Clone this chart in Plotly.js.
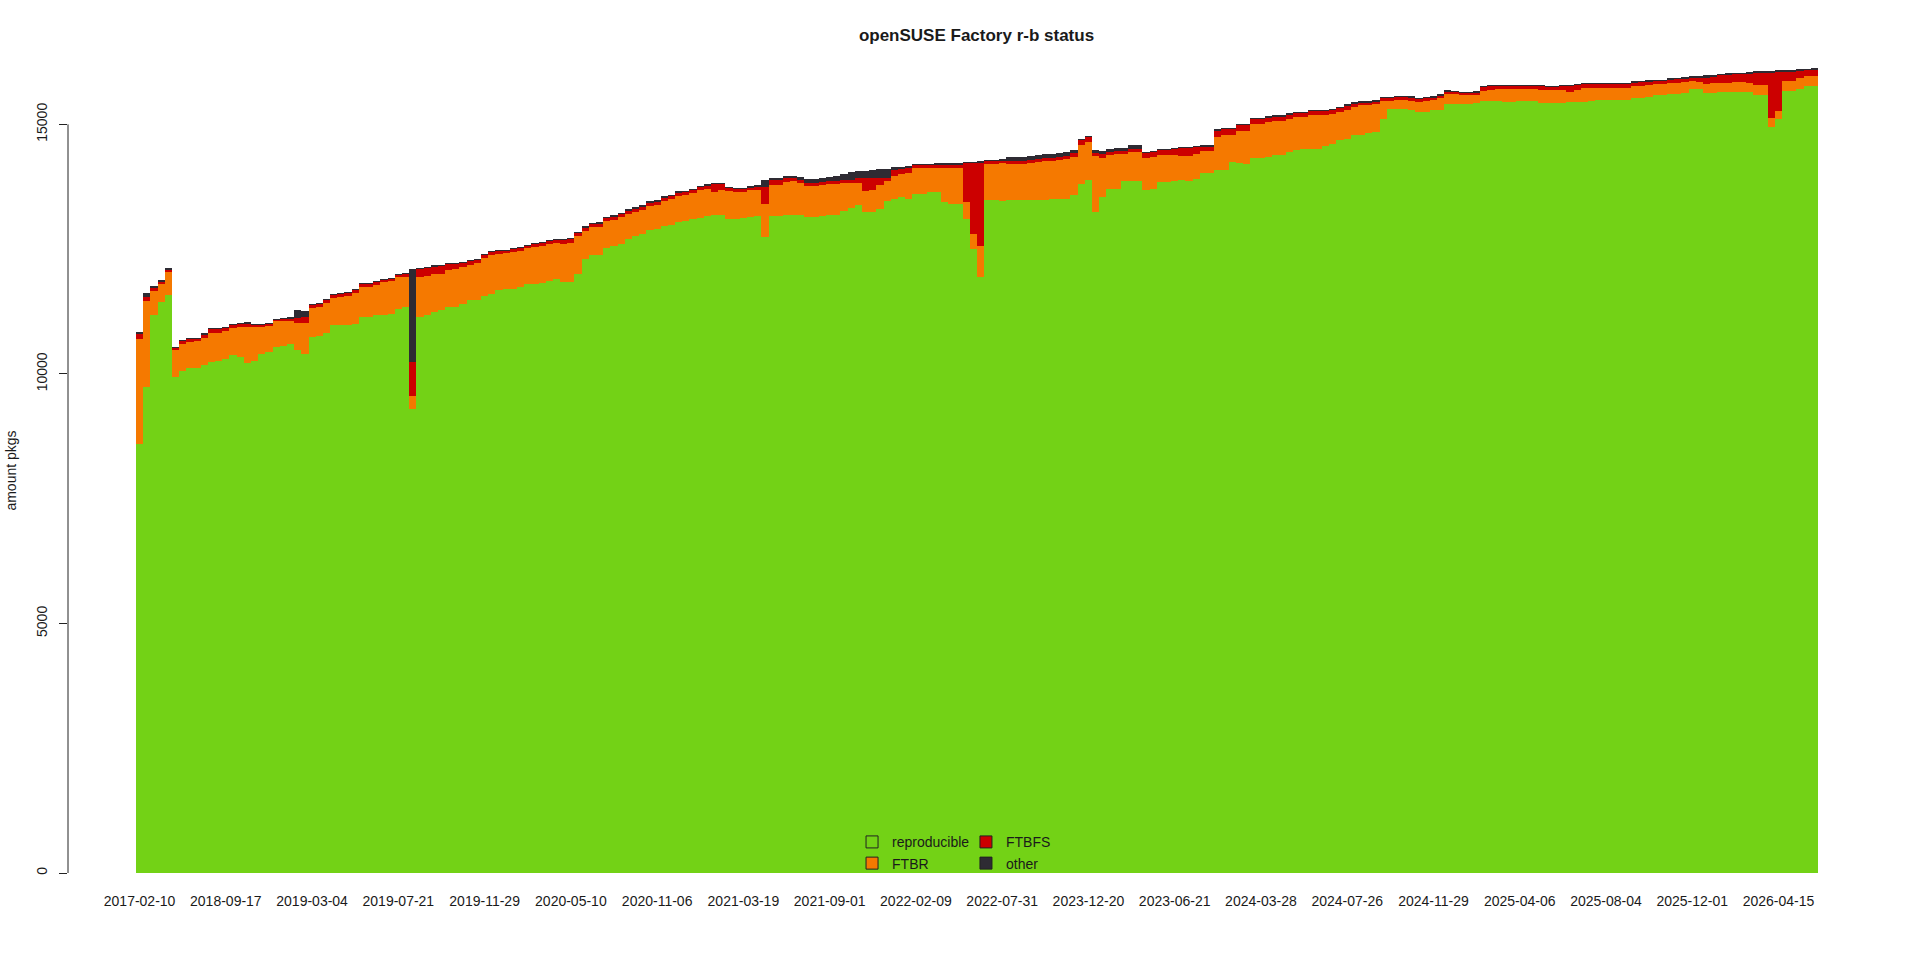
<!DOCTYPE html>
<html>
<head>
<meta charset="utf-8">
<script src="https://cdn.plot.ly/plotly-3.0.1.min.js"></script>
<style>
  html, body { margin: 0; padding: 0; background: #fff; }
  #chart { width: 1920px; height: 960px; }
</style>
</head>
<body>
<div id="chart"></div>
<script>
/* openSUSE Factory reproducible-builds status, stacked per sample.
   One bar per sample (12 samples per label step). */

const tickLabels = [
  '2017-02-10', '2018-09-17', '2019-03-04', '2019-07-21', '2019-11-29',
  '2020-05-10', '2020-11-06', '2021-03-19', '2021-09-01', '2022-02-09',
  '2022-07-31', '2023-12-20', '2023-06-21', '2024-03-28', '2024-07-26',
  '2024-11-29', '2025-04-06', '2025-08-04', '2025-12-01', '2026-04-15'
];
const tickIndex = [0, 12, 24, 36, 48, 60, 72, 84, 96, 108, 120, 132, 144, 156, 168, 180, 192, 204, 216, 228];

const yTicks = [0, 5000, 10000, 15000];
const yTickText = ['0', '5000', '10000', '15000'];

const reproducible = [
  8600, 9735, 11177, 11450, 11577, 9940, 10060, 10115, 10115, 10180, 10240, 10260,
  10300, 10375, 10330, 10215, 10260, 10400, 10435, 10540, 10560, 10600, 10475, 10400,
  10740, 10760, 10830, 10976, 10976, 10990, 11000, 11140, 11140, 11180, 11190, 11200,
  11300, 11343, 9300, 11150, 11180, 11250, 11280, 11343, 11343, 11400, 11477, 11477,
  11560, 11610, 11690, 11710, 11710, 11750, 11810, 11810, 11830, 11870, 11900, 11843,
  11850, 12000, 12300, 12392, 12392, 12530, 12560, 12599, 12700, 12760, 12800, 12880,
  12913, 12960, 12990, 13050, 13070, 13110, 13127, 13160, 13180, 13190, 13113, 13113,
  13120, 13140, 13160, 12746, 13167, 13167, 13193, 13193, 13180, 13150, 13147, 13160,
  13180, 13180, 13260, 13330, 13380, 13250, 13247, 13300, 13461, 13500, 13547, 13500,
  13614, 13614, 13647, 13640, 13447, 13400, 13400, 13100, 12500, 11945, 13480, 13480,
  13467, 13480, 13480, 13480, 13485, 13494, 13494, 13500, 13514, 13514, 13580, 13814,
  13881, 13240, 13547, 13700, 13700, 13861, 13861, 13861, 13680, 13700, 13847, 13847,
  13860, 13881, 13860, 13900, 14028, 14028, 14081, 14081, 14248, 14230, 14215, 14328,
  14328, 14340, 14382, 14382, 14450, 14482, 14509, 14509, 14509, 14562, 14600, 14696,
  14710, 14782, 14790, 14829, 14840, 15100, 15303, 15303, 15303, 15290, 15250, 15250,
  15283, 15283, 15416, 15416, 15410, 15416, 15430, 15470, 15470, 15470, 15450, 15450,
  15463, 15463, 15463, 15430, 15430, 15430, 15430, 15440, 15450, 15450, 15460, 15497,
  15497, 15497, 15497, 15497, 15537, 15537, 15550, 15583, 15590, 15617, 15617, 15630,
  15703, 15703, 15630, 15630, 15650, 15650, 15650, 15650, 15640, 15597, 15597, 14950,
  15100, 15670, 15670, 15700, 15763, 15763
];

const ftbr = [
  2110, 1725, 480, 350, 463, 530, 535, 530, 540, 550, 585, 565,
  555, 550, 605, 725, 675, 545, 535, 515, 505, 470, 552, 630,
  577, 585, 585, 539, 560, 565, 625, 598, 598, 610, 645, 655,
  635, 597, 250, 795, 785, 745, 725, 737, 752, 740, 706, 738,
  755, 780, 715, 705, 740, 715, 705, 735, 740, 725, 717, 752,
  765, 760, 570, 551, 558, 527, 530, 538, 510, 490, 490, 490,
  477, 510, 510, 521, 520, 524, 563, 550, 474, 494, 557, 534,
  527, 540, 531, 667, 618, 618, 648, 668, 650, 625, 628, 625,
  623, 630, 561, 500, 438, 418, 433, 484, 413, 470, 451, 520,
  506, 506, 473, 485, 678, 733, 733, 350, 300, 615, 720, 720,
  763, 730, 728, 728, 735, 756, 766, 775, 776, 796, 762, 776,
  769, 1135, 789, 681, 701, 540, 587, 587, 648, 640, 543, 543,
  525, 492, 513, 515, 449, 449, 669, 705, 538, 640, 655, 678,
  678, 715, 696, 696, 665, 663, 636, 676, 682, 629, 605, 549,
  585, 576, 595, 559, 565, 375, 172, 192, 192, 185, 202, 210,
  213, 250, 200, 187, 173, 167, 158, 207, 223, 233, 253, 253,
  240, 240, 240, 260, 253, 258, 257, 207, 230, 280, 270, 238,
  240, 240, 240, 240, 231, 241, 238, 222, 215, 211, 221, 218,
  169, 152, 187, 192, 182, 185, 202, 202, 195, 188, 188, 180,
  170, 202, 202, 220, 200, 205
];

const ftbfs = [
  100, 80, 60, 50, 50, 40, 60, 50, 50, 60, 80, 80,
  70, 60, 60, 70, 50, 40, 30, 30, 30, 40, 100, 120,
  60, 60, 60, 70, 70, 70, 60, 60, 60, 50, 50, 50,
  50, 60, 680, 160, 160, 150, 150, 120, 100, 80, 70, 60,
  60, 50, 50, 50, 50, 50, 50, 50, 50, 60, 70, 80,
  80, 60, 60, 60, 60, 60, 60, 60, 60, 60, 60, 60,
  60, 60, 60, 60, 50, 50, 50, 60, 150, 120, 50, 50,
  50, 50, 50, 334, 110, 110, 80, 60, 60, 60, 60, 60,
  60, 60, 60, 60, 100, 250, 250, 150, 60, 110, 110, 100,
  60, 60, 60, 60, 60, 60, 60, 770, 1420, 1660, 60, 60,
  40, 60, 60, 60, 60, 60, 60, 60, 60, 60, 80, 90,
  90, 60, 67, 67, 67, 67, 67, 67, 100, 100, 100, 100,
  120, 150, 150, 130, 80, 80, 120, 120, 120, 115, 110, 110,
  110, 80, 80, 80, 80, 80, 80, 80, 80, 80, 80, 80,
  80, 60, 50, 50, 50, 50, 50, 50, 50, 60, 60, 60,
  40, 40, 40, 40, 40, 40, 45, 67, 67, 67, 67, 67,
  67, 67, 67, 80, 67, 67, 90, 130, 110, 80, 80, 80,
  80, 80, 80, 80, 67, 67, 67, 67, 67, 67, 67, 67,
  67, 80, 120, 120, 150, 150, 150, 150, 180, 250, 250, 890,
  770, 180, 180, 150, 120, 120
];

const other = [
  40, 80, 40, 30, 30, 30, 25, 25, 25, 30, 25, 25,
  25, 25, 25, 30, 25, 25, 30, 25, 25, 30, 150, 120,
  20, 25, 25, 25, 25, 25, 25, 25, 25, 20, 25, 25,
  25, 30, 1880, 25, 25, 30, 25, 25, 30, 30, 25, 25,
  25, 25, 25, 25, 25, 25, 25, 25, 25, 25, 25, 25,
  25, 30, 30, 30, 30, 30, 30, 30, 30, 30, 30, 30,
  30, 30, 30, 30, 30, 30, 30, 30, 30, 30, 30, 30,
  30, 30, 40, 148, 40, 40, 40, 40, 50, 80, 80, 85,
  85, 90, 120, 150, 150, 150, 150, 167, 167, 60, 40, 40,
  35, 35, 35, 35, 35, 35, 35, 35, 35, 40, 35, 35,
  45, 70, 80, 80, 80, 80, 80, 80, 80, 80, 60, 20,
  20, 60, 67, 67, 67, 67, 67, 67, 20, 20, 25, 25,
  25, 25, 25, 25, 25, 25, 30, 30, 30, 25, 20, 20,
  20, 25, 25, 25, 25, 25, 25, 25, 25, 25, 25, 25,
  25, 25, 25, 25, 25, 25, 25, 25, 25, 25, 25, 25,
  27, 27, 27, 27, 27, 27, 27, 20, 20, 20, 20, 20,
  20, 20, 20, 20, 20, 20, 20, 20, 20, 20, 20, 20,
  20, 20, 20, 20, 25, 25, 25, 25, 25, 25, 25, 25,
  25, 35, 53, 53, 35, 35, 35, 35, 35, 35, 35, 45,
  45, 45, 45, 35, 35, 35
];

const FONT = '"Liberation Sans", Arial, Helvetica, sans-serif';
const INK = '#1a1a1a';

const series = [
  { name: 'reproducible', y: reproducible, color: '#73d216', legend: 'legend',  rank: 1 },
  { name: 'FTBR',         y: ftbr,         color: '#f57900', legend: 'legend',  rank: 2 },
  { name: 'FTBFS',        y: ftbfs,        color: '#cc0000', legend: 'legend2', rank: 1 },
  { name: 'other',        y: other,        color: '#2e2b33', legend: 'legend2', rank: 2 }
];

const idx = reproducible.map((_, i) => i);

// stacked bars, no borders
const traces = series.map(s => ({
  type: 'bar', x: idx, y: s.y, name: s.name,
  marker: { color: s.color, line: { width: 0 } },
  width: 1, showlegend: false, hoverinfo: 'skip'
}));

// legend-only entries (boxes get a dark border like R's legend())
series.forEach(s => traces.push({
  type: 'bar', x: [null], y: [null], name: s.name,
  marker: { color: s.color, line: { color: '#222', width: 1 } },
  legend: s.legend, legendrank: s.rank, showlegend: true
}));

const legendBase = {
  bgcolor: 'rgba(0,0,0,0)', borderwidth: 0,
  font: { family: FONT, size: 14, color: INK },
  xanchor: 'left', yanchor: 'top', orientation: 'v',
  traceorder: 'normal'
};

const layout = {
  width: 1920, height: 960,
  paper_bgcolor: '#fff', plot_bgcolor: '#fff',
  font: { family: FONT, size: 14, color: INK },
  margin: { l: 68, r: 35, t: 68, b: 87, pad: 0 },
  barmode: 'stack', bargap: 0,
  title: {
    text: '<b>openSUSE Factory r-b status</b>',
    font: { family: FONT, size: 17, color: INK },
    x: 0.5, xref: 'paper', xanchor: 'center',
    y: 1 - 35 / 960, yref: 'container', yanchor: 'middle'
  },
  xaxis: {
    range: [-9.96, 242.82], fixedrange: true,
    showgrid: false, zeroline: false, showline: false,
    ticks: '', tickmode: 'array', tickvals: tickIndex, ticktext: tickLabels,
    tickfont: { family: FONT, size: 14, color: INK },
    ticklabelstandoff: 18
  },
  yaxis: {
    range: [0, 16130], fixedrange: true,
    showgrid: false, zeroline: false, showline: false,
    ticks: 'outside', ticklen: 8, tickwidth: 1, tickcolor: '#222',
    tickmode: 'array', tickvals: yTicks, ticktext: yTickText,
    tickangle: -90, ticklabelstandoff: 6,
    tickfont: { family: FONT, size: 14, color: INK },
    title: { text: 'amount pkgs', font: { family: FONT, size: 14, color: INK }, standoff: 14 }
  },
  legend: Object.assign({}, legendBase, { x: 0.4315, y: 0.058 }),
  legend2: Object.assign({}, legendBase, { x: 0.4942, y: 0.058 }),
  shapes: [{
    type: 'line', xref: 'paper', yref: 'y',
    x0: 0, x1: 0, y0: 0, y1: 15000,
    line: { color: '#222', width: 1 }
  }]
};

Plotly.newPlot('chart', traces, layout, { displayModeBar: false, staticPlot: true });
</script>
</body>
</html>
